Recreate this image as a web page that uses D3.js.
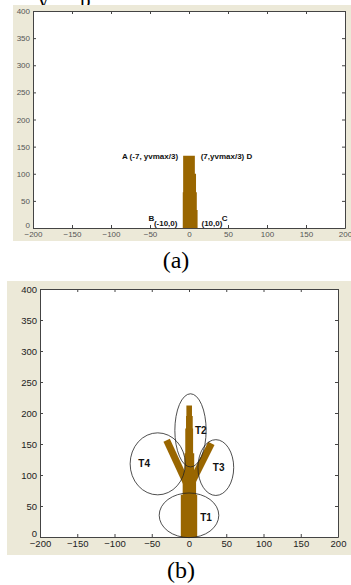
<!DOCTYPE html>
<html>
<head>
<meta charset="utf-8">
<script src="https://cdn.jsdelivr.net/npm/d3@7"></script>
<style>
body { margin: 0; background: #fff; }
svg { display: block; }
</style>
</head>
<body>
<svg id="fig" width="351" height="585"></svg>
<script>
"use strict";
const xTicks = [-200, -150, -100, -50, 0, 50, 100, 150, 200];
const yTicks = [0, 50, 100, 150, 200, 250, 300, 350, 400];

// (a) stem drawn as stacked steps: [yBottom, yTop, xLeft, xRight]
const stemA = [[0, 33, -8, 11], [33, 66, -8, 10], [66, 100, -7.5, 9], [100, 133, -7.5, 7.5]];
// corner annotations: [text, x, y, anchor]
const cornerLabels = [
    ["A  (-7, yvmax/3)", -14, 133, "end"],
    ["(7,yvmax/3) D", 15, 133, "start"],
    ["B", -52, 18, "start"],
    ["(-10,0)", -45, 9, "start"],
    ["(10,0)", 16, 9, "start"],
    ["C", 42, 18, "start"]
];

// (b) tree trunk steps and branches
const trunkB = [[0, 68, -11, 11], [68, 100, -8.5, 9.5], [100, 135, -6, 7], [135, 175, -5, 5.5], [175, 195, -4, 5], [195, 212, -3.5, 4]];
const branchLeft = [[-3, 86], [-30, 156]];
const branchRight = [[3, 86], [30, 151]];
// ellipses: [name, cx, cy, rx, ry, labelX, labelY]
const zones = [
    ["T1", 0, 35, 40, 36, 15, 32],
    ["T2", 2, 172, 21, 59, 8, 171],
    ["T3", 36, 112, 24, 45, 32, 112],
    ["T4", -42, 118, 37, 50, -68, 119]
];

const svg = d3.select('#fig');
const brown = '#996600';

function makePanel(box, frame, labelSize, labelColor) {
    svg.append('rect')
        .attr('x', box.bx).attr('y', box.by)
        .attr('width', box.bw).attr('height', box.bh)
        .attr('fill', '#ece9d8');
    svg.append('rect')
        .attr('x', frame.x0).attr('y', frame.y0)
        .attr('width', frame.x1 - frame.x0).attr('height', frame.y1 - frame.y0)
        .attr('fill', '#fff');
    const x = d3.scaleLinear().domain([-200, 200]).range([frame.x0, frame.x1]);
    const y = d3.scaleLinear().domain([0, 400]).range([frame.y1, frame.y0]);
    const g = svg.append('g');
    const style = (sel) => {
        sel.selectAll('path').attr('stroke', '#444');
        sel.selectAll('line').attr('stroke', '#444');
        sel.selectAll('text').attr('font-family', 'Liberation Sans, Arial, sans-serif')
            .attr('font-size', labelSize).attr('fill', labelColor);
    };
    g.append('g').attr('transform', `translate(0,${frame.y1})`)
        .call(d3.axisBottom(x).tickValues(xTicks).tickSizeInner(-3).tickSizeOuter(0).tickPadding(3).tickFormat(d3.format('d')))
        .call(style);
    g.append('g').attr('transform', `translate(0,${frame.y0})`)
        .call(d3.axisTop(x).tickValues(xTicks).tickSizeInner(-3).tickSizeOuter(0).tickFormat(''))
        .call(style);
    const left = g.append('g').attr('transform', `translate(${frame.x0},0)`)
        .call(d3.axisLeft(y).tickValues(yTicks).tickSizeInner(-3).tickSizeOuter(0).tickPadding(3))
        .call(style);
    // lift the zero label so it clears the x labels
    left.selectAll('.tick text').filter((d) => d === 0).attr('dy', '-0.1em');
    g.append('g').attr('transform', `translate(${frame.x1},0)`)
        .call(d3.axisRight(y).tickValues(yTicks).tickSizeInner(-3).tickSizeOuter(0).tickFormat(''))
        .call(style);
    svg.selectAll('.domain').attr('fill', 'none');
    return { x, y };
}

// outline of a stepped stem, left side upwards then right side downwards
function drawSteps(sc, steps) {
    const pts = [];
    steps.forEach((s) => { pts.push([s[2], s[0]], [s[2], s[1]]); });
    steps.slice().reverse().forEach((s) => { pts.push([s[3], s[1]], [s[3], s[0]]); });
    const outline = d3.line().x((d) => sc.x(d[0])).y((d) => sc.y(d[1]));
    svg.append('path')
        .attr('d', outline(pts) + 'Z')
        .attr('fill', brown);
}

// cropped caption line above (a)
svg.append('text').attr('x', 38).attr('y', 7).attr('font-family', 'Liberation Serif, Times New Roman, serif')
    .attr('font-size', 21).text('y');
svg.append('text').attr('x', 80).attr('y', 7).attr('font-family', 'Liberation Serif, Times New Roman, serif')
    .attr('font-size', 21).text('p');

// panel (a)
const sa = makePanel({ bx: 13, by: 5, bw: 338, bh: 236 }, { x0: 33, x1: 345, y0: 11, y1: 228 }, 8, '#555');
drawSteps(sa, stemA);
svg.append('g').selectAll('text')
    .data(cornerLabels)
    .enter()
    .append('text')
    .attr('x', (d) => sa.x(d[1]))
    .attr('y', (d) => sa.y(d[2]))
    .attr('dy', '0.35em')
    .attr('text-anchor', (d) => d[3])
    .attr('font-family', 'Liberation Sans, Arial, sans-serif')
    .attr('font-size', 8)
    .attr('font-weight', 'bold')
    .attr('fill', '#111')
    .text((d) => d[0]);

svg.append('text').attr('x', 176).attr('y', 268).attr('text-anchor', 'middle')
    .attr('font-family', 'Liberation Serif, Times New Roman, serif').attr('font-size', 24).text('(a)');

// panel (b)
const sb = makePanel({ bx: 7, by: 281, bw: 344, bh: 274 }, { x0: 40, x1: 338, y0: 289, y1: 537 }, 9.5, '#222');
drawSteps(sb, trunkB);
const line = d3.line().x((d) => sb.x(d[0])).y((d) => sb.y(d[1]));
svg.append('g').selectAll('path')
    .data([branchLeft, branchRight])
    .enter()
    .append('path')
    .attr('d', line)
    .attr('stroke', brown)
    .attr('stroke-width', 7)
    .attr('fill', 'none');
svg.append('g').selectAll('ellipse')
    .data(zones)
    .enter()
    .append('ellipse')
    .attr('cx', (d) => sb.x(d[1]))
    .attr('cy', (d) => sb.y(d[2]))
    .attr('rx', (d) => sb.x(d[3]) - sb.x(0))
    .attr('ry', (d) => sb.y(0) - sb.y(d[4]))
    .attr('fill', 'none')
    .attr('stroke', '#222')
    .attr('stroke-width', 0.8);
svg.append('g').selectAll('text')
    .data(zones)
    .enter()
    .append('text')
    .attr('x', (d) => sb.x(d[5]))
    .attr('y', (d) => sb.y(d[6]))
    .attr('dy', '0.35em')
    .attr('font-family', 'Liberation Sans, Arial, sans-serif')
    .attr('font-size', 10)
    .attr('font-weight', 'bold')
    .attr('fill', '#111')
    .text((d) => d[0]);

svg.append('text').attr('x', 181).attr('y', 578).attr('text-anchor', 'middle')
    .attr('font-family', 'Liberation Serif, Times New Roman, serif').attr('font-size', 24).text('(b)');
</script>
</body>
</html>
